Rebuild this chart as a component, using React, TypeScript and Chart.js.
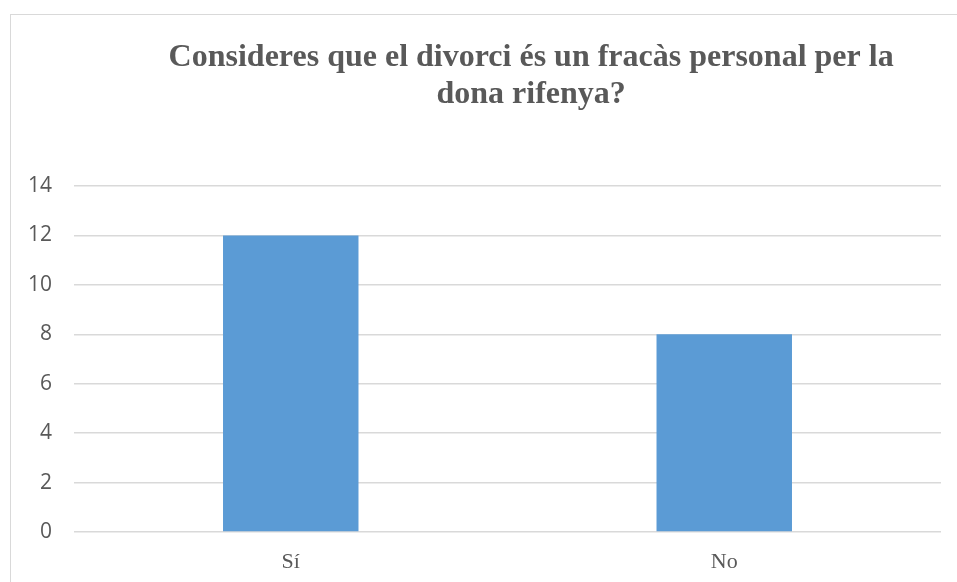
import React, { useEffect, useRef } from "react";
import { Chart, registerables } from "chart.js";

Chart.register(...registerables);

const titleLines = ["Consideres que el divorci és un fracàs personal per la", "dona rifenya?"];
const categories = ["Sí", "No"];
const values = [12, 8];
const yMin = 0;
const yMax = 14;
const yStep = 2;

const titlePlugin = {
  id: "offsetTitle",
  afterDraw(chart: any) {
    const ctx = chart.ctx;
    ctx.save();
    ctx.fillStyle = "#595959";
    ctx.font = "bold 32px 'Liberation Serif', 'Times New Roman', serif";
    ctx.textAlign = "center";
    ctx.textBaseline = "alphabetic";
    const cx = chart.width * 0.555;
    titleLines.forEach((line, i) => {
      ctx.fillText(line, cx, 66 + i * 37);
    });
    ctx.restore();
  },
};

export default function App() {
  const ref = useRef<HTMLCanvasElement | null>(null);

  useEffect(() => {
    if (!ref.current) return;
    const chart = new Chart(ref.current, {
      type: "bar",
      data: {
        labels: categories,
        datasets: [
          {
            data: values,
            backgroundColor: "#5b9bd5",
            borderWidth: 0,
            categoryPercentage: 1,
            barPercentage: 0.3125,
          },
        ],
      },
      options: {
        animation: false,
        responsive: false,
        maintainAspectRatio: false,
        layout: { padding: { left: 10, right: 16, top: 186, bottom: 0 } },
        plugins: {
          legend: { display: false },
          title: { display: false },
          tooltip: { enabled: false },
        },
        scales: {
          x: {
            grid: { display: false, drawTicks: false },
            border: { display: false },
            ticks: {
              color: "#595959",
              padding: 17,
              font: { family: "'Liberation Serif', 'Times New Roman', serif", size: 22 },
            },
            afterFit: (s: any) => {
              s.height = 50;
            },
          },
          y: {
            min: yMin,
            max: yMax,
            ticks: {
              stepSize: yStep,
              color: "#595959",
              padding: 22,
              font: { family: "'Open Sans', sans-serif", size: 21 },
            },
            grid: { color: "#d9d9d9", lineWidth: 1.5, drawTicks: false },
            border: { display: false },
            afterFit: (s: any) => {
              s.width = 64;
            },
          },
        },
      },
      plugins: [titlePlugin],
    });
    return () => chart.destroy();
  }, []);

  return (
    <div
      style={{
        position: "fixed",
        left: 0,
        top: 0,
        width: 957,
        height: 582,
        overflow: "hidden",
        background: "#ffffff",
      }}
    >
      <div
        style={{
          position: "absolute",
          left: 10,
          top: 14,
          width: 1100,
          height: 700,
          border: "1px solid #d9d9d9",
          boxSizing: "border-box",
        }}
      />
      <canvas
        ref={ref}
        width={957}
        height={582}
        style={{ position: "absolute", left: 0, top: 0, width: 957, height: 582 }}
      />
    </div>
  );
}
